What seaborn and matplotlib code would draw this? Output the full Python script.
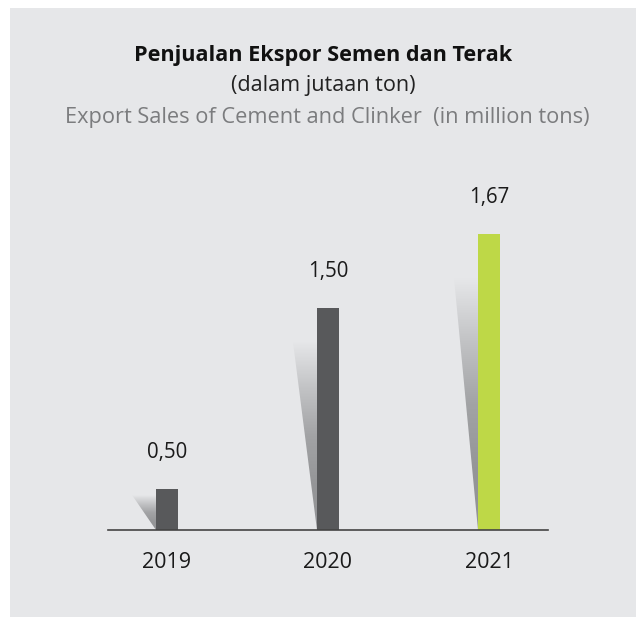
import numpy as np
import pandas as pd
import matplotlib.pyplot as plt
import seaborn as sns
from matplotlib.patches import Rectangle, Polygon
from matplotlib.colors import LinearSegmentedColormap

# Data
years = ['2019', '2020', '2021']
values = [0.50, 1.50, 1.67]
# bar heights as drawn in the infographic (the original is not drawn to scale)
bar_heights = [0.23, 1.25, 1.67]
bar_colors = ['#58595b', '#58595b', '#bed847']

title = 'Penjualan Ekspor Semen dan Terak'
subtitle = '(dalam jutaan ton)'
subtitle_en = 'Export Sales of Cement and Clinker  (in million tons)'

BG = '#e6e7e9'
W, H = 636, 617

sns.set_style('white')
plt.rcParams['font.family'] = ['Open Sans', 'DejaVu Sans']

fig = plt.figure(figsize=(W / 100, H / 100), dpi=100)
fig.patch.set_facecolor('white')
panel = Rectangle((10 / W, 0), 1 - 10 / W, 1 - 8 / H, transform=fig.transFigure,
                  facecolor=BG, edgecolor='none', zorder=-10)
fig.add_artist(panel)

ax = fig.add_axes([108 / W, 87 / H, 440 / W, 354.5 / H])
ax.set_facecolor('none')

df = pd.DataFrame({'year': years, 'height': bar_heights, 'value': values})
bw = 0.137
sns.barplot(data=df, x='year', y='height', hue='year', palette=bar_colors, width=bw,
            saturation=1, legend=False, ax=ax, zorder=3, linewidth=0)

# gradient "shadow" wedge to the left of each bar
shade = LinearSegmentedColormap.from_list('shade', [BG, '#c2c3c5', '#a2a3a5', '#959698', '#939497'])
grad = np.linspace(1, 0, 256).reshape(-1, 1)
sw = 0.15
for i, h in enumerate(df['height']):
    xl = i - bw / 2
    top = h * 0.85
    im = ax.imshow(grad, cmap=shade, vmin=0, vmax=1, extent=[xl - sw, xl, 0, top],
                   origin='lower', aspect='auto', zorder=2, interpolation='bilinear')
    poly = Polygon([(xl - sw, top), (xl, top), (xl, 0)], closed=True, transform=ax.transData)
    im.set_clip_path(poly)

ax.set_xlim(-0.366, 2.366)
ax.set_ylim(0, 2.0)

# value labels
for i, (h, v) in enumerate(zip(df['height'], df['value'])):
    ax.annotate(f'{v:.2f}'.replace('.', ','), (i, h), xytext=(0, 26.5), textcoords='offset points',
                ha='center', va='center', fontsize=14.8, color='#1a1a1a')

for s in ['top', 'left', 'right']:
    ax.spines[s].set_visible(False)
ax.spines['bottom'].set_color('#444444')
ax.spines['bottom'].set_linewidth(1.2)
ax.spines['bottom'].set_zorder(4)
ax.set_yticks([])
ax.set_xlabel('')
ax.set_ylabel('')
ax.tick_params(axis='x', length=0, pad=16, labelsize=15.5, labelcolor='#1a1a1a')

fig.text(323 / W, 1 - 56 / H, title, ha='center', va='center', fontsize=15.6,
         fontweight='bold', color='#111111')
fig.text(323 / W, 1 - 86 / H, subtitle, ha='center', va='center', fontsize=15.6, color='#222222')
fig.text(327 / W, 1 - 117 / H, subtitle_en, ha='center', va='center', fontsize=15.7,
         color='#7b7c7e')

fig.savefig('out.png', dpi=100, facecolor=fig.get_facecolor())
